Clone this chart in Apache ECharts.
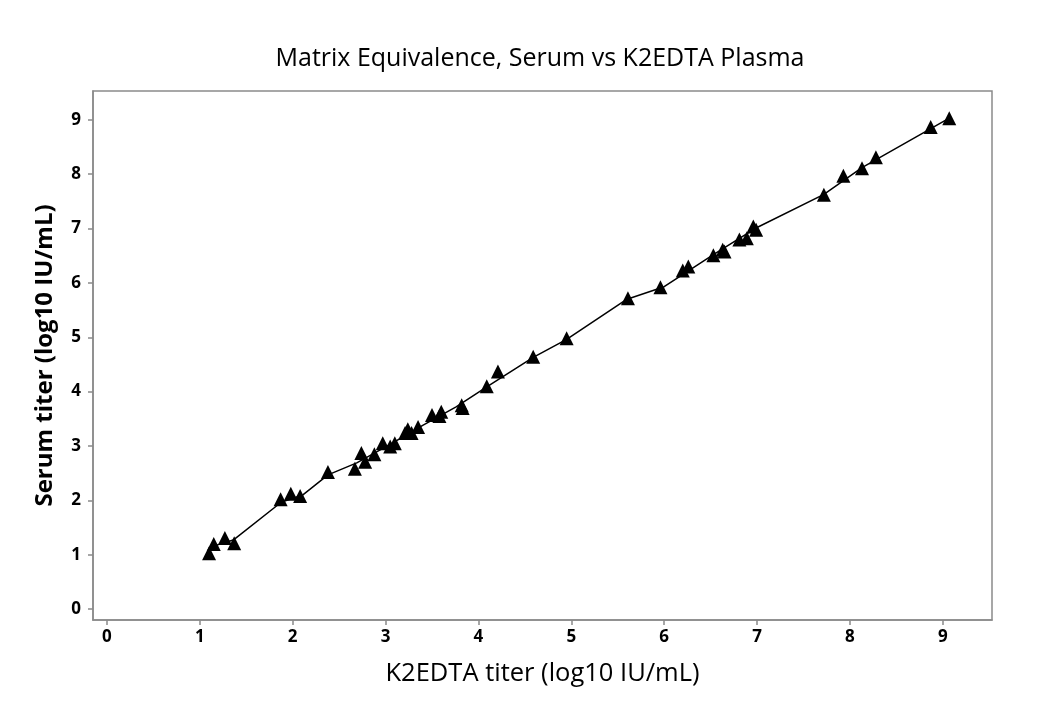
<!DOCTYPE html>
<html>
<head>
<meta charset="utf-8">
<script src="https://cdn.jsdelivr.net/npm/echarts@6/dist/echarts.min.js"></script>
<style>
  html, body { margin: 0; padding: 0; background: #fff; }
  #chart { width: 1050px; height: 707px; }
</style>
</head>
<body>
<div id="chart"></div>
<script>
// K2EDTA titer (x) vs serum titer (y), log10 IU/mL
var plasmaTiter = [1.10, 1.15, 1.27, 1.37, 1.87, 1.98, 2.08, 2.38, 2.67, 2.74, 2.78, 2.88, 2.97, 3.05,
  3.10, 3.21, 3.24, 3.28, 3.35, 3.50, 3.58, 3.60, 3.82, 3.83, 4.09, 4.21, 4.59, 4.95, 5.61, 5.96,
  6.20, 6.26, 6.53, 6.63, 6.65, 6.81, 6.89, 6.96, 6.99, 7.72, 7.93, 8.13, 8.28, 8.87, 9.07];
var serumTiter = [1.03, 1.20, 1.31, 1.21, 2.02, 2.12, 2.08, 2.52, 2.58, 2.87, 2.71, 2.85, 3.05, 2.99,
  3.05, 3.24, 3.31, 3.24, 3.35, 3.57, 3.55, 3.63, 3.75, 3.70, 4.10, 4.37, 4.64, 4.98, 5.72, 5.92,
  6.23, 6.30, 6.51, 6.61, 6.58, 6.80, 6.82, 7.04, 6.98, 7.62, 7.97, 8.11, 8.31, 8.87, 9.03];

// connecting line
var lineX = [1.13, 1.36, 1.88, 2.11, 2.38, 2.69, 3.05, 3.40, 3.76, 4.09, 4.59, 4.95, 5.60, 6.00, 6.53, 7.00, 7.72, 8.13, 9.07];
var lineY = [1.15, 1.27, 1.97, 2.10, 2.47, 2.69, 3.03, 3.38, 3.72, 4.09, 4.63, 4.96, 5.70, 5.93, 6.52, 7.02, 7.63, 8.12, 9.03];

var tickLabels = [0, 1, 2, 3, 4, 5, 6, 7, 8, 9];

var pts = plasmaTiter.map(function (x, i) { return [x, serumTiter[i]]; });
var linePts = lineX.map(function (x, i) { return [x, lineY[i]]; });

var font = '"Open Sans", "Noto Sans", sans-serif';
var axisCommon = {
  type: 'value',
  axisLine: { show: true, onZero: false, lineStyle: { color: '#8a8a8a', width: 1.5 } },
  axisTick: { show: true, customValues: tickLabels, length: 5, lineStyle: { color: '#8a8a8a', width: 1.5 } },
  axisLabel: { customValues: tickLabels, color: '#000', fontFamily: font, fontWeight: 'bold', fontSize: 17 },
  splitLine: { show: false }
};

var chart = echarts.init(document.getElementById('chart'));
chart.setOption({
  backgroundColor: '#fff',
  animation: false,
  title: {
    text: 'Matrix Equivalence, Serum vs K2EDTA Plasma',
    left: 535, top: 41, textAlign: 'center',
    textStyle: { fontFamily: font, fontSize: 25, fontWeight: 'normal', color: '#000' }
  },
  grid: { left: 93, right: 58, top: 91, bottom: 87, show: true, borderColor: '#8a8a8a', borderWidth: 1.5 },
  xAxis: Object.assign({}, axisCommon, {
    min: -0.15, max: 9.53,
    name: 'K2EDTA titer (log10 IU/mL)', nameLocation: 'middle', nameGap: 41,
    nameTextStyle: { fontFamily: font, fontSize: 25.5, color: '#000' },
    axisLabel: Object.assign({}, axisCommon.axisLabel, { margin: 9 })
  }),
  yAxis: Object.assign({}, axisCommon, {
    min: -0.2, max: 9.53,
    name: 'Serum titer (log10 IU/mL)', nameLocation: 'middle', nameGap: 36,
    nameTextStyle: { fontFamily: font, fontSize: 24, fontWeight: 'bold', color: '#000' },
    axisLabel: Object.assign({}, axisCommon.axisLabel, { margin: 12 })
  }),
  series: [
    {
      type: 'line', data: linePts, showSymbol: false, smooth: false,
      lineStyle: { color: '#000', width: 1.5 }, z: 2
    },
    {
      type: 'scatter', data: pts, symbol: 'triangle', symbolSize: 14,
      itemStyle: { color: '#000', opacity: 1 }, z: 3
    }
  ]
});
</script>
</body>
</html>
